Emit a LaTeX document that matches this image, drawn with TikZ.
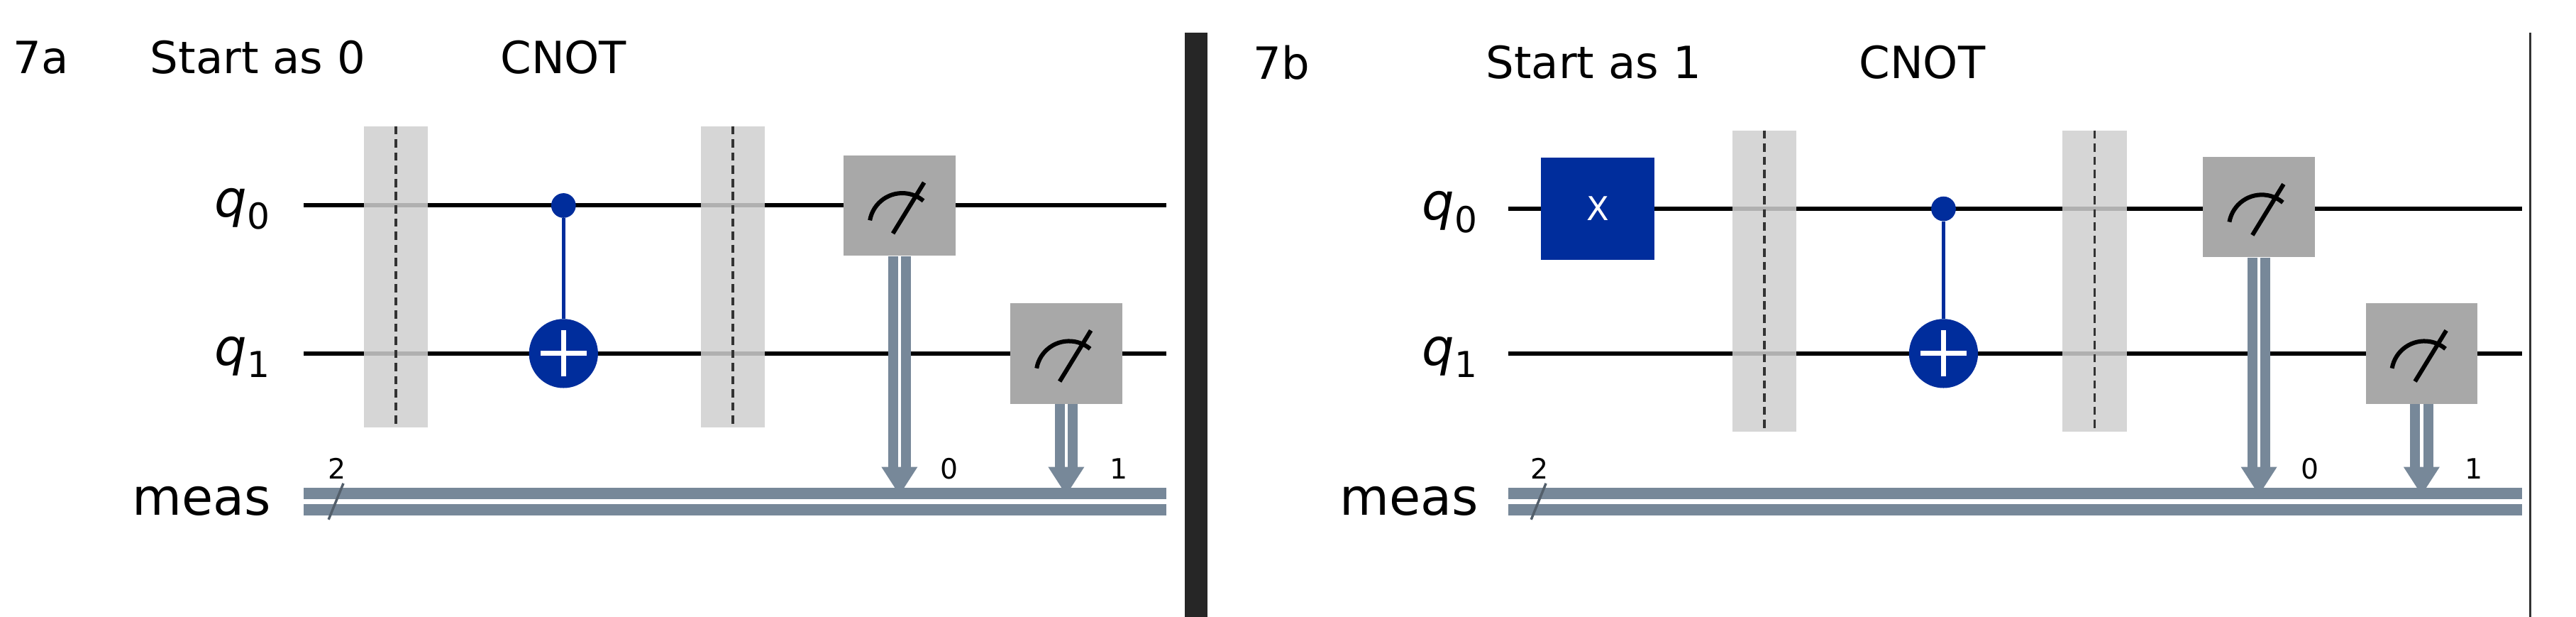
\documentclass[tikz,border=0pt]{standalone}
\usepackage{fontspec}
\setmainfont{DejaVu Sans}
\usepackage{xcolor}
\usetikzlibrary{positioning}
\definecolor{gateblue}{HTML}{002D9C}
\definecolor{measgray}{HTML}{A8A8A8}
\definecolor{barfill}{HTML}{CFCFCF}
\definecolor{cwire}{HTML}{778899}

\begin{document}
\begin{tikzpicture}[x=1pt, y=-1pt]
            \tikzstyle{title} = [font=\fontsize{27}{30}\selectfont, inner sep=0pt]
            \tikzstyle{wlabel} = [font=\fontsize{31}{34}\selectfont, anchor=east, inner sep=0pt]
            \tikzstyle{small} = [font=\fontsize{17}{20}\selectfont, inner sep=0pt]
            \tikzstyle{qwire} = [line width=2.6pt, black]
            \tikzstyle{cdouble} = [draw=cwire, line width=7pt, double=white, double distance=3pt]
            \tikzstyle{barrier} = [fill=barfill, opacity=0.85, minimum width=39pt, minimum height=183pt, inner sep=0pt]
            \tikzstyle{meter} = [fill=measgray, minimum width=68pt, minimum height=61pt, inner sep=0pt]
            \tikzstyle{xgate} = [fill=gateblue, text=white, minimum width=69pt, minimum height=62pt, inner sep=0pt, font=\fontsize{20}{22}\selectfont]
            \tikzstyle{ctrl} = [circle, fill=gateblue, minimum size=15pt, inner sep=0pt]
            \tikzstyle{target} = [circle, fill=gateblue, minimum size=42pt, inner sep=0pt]
            \tikzstyle{bline} = [dashed, dash pattern=on 5pt off 3pt, line width=1.6pt, black!80]
            \useasboundingbox (0,0) rectangle (1568,375.2);

            % dividers
            \fill [black!85] (721,20) rectangle (735,375.2);
            \draw [line width=1.2pt, black!80] (1540,20) -- (1540,375.2);

            % panel 7a
            \node [title] (A) at (25,35) {7a};
            \node [title] (Astart) at (157,35) {Start as 0};
            \node [title] (Acnot) at (343,35) {CNOT};
            \node [wlabel] (Aq0) at (165,127) {\itshape q\textsubscript{\upshape 0}};
            \node [wlabel] (Aq1) at (165,217) {\itshape q\textsubscript{\upshape 1}};
            \node [wlabel] (Ameas) at (165,305) {meas};
            \coordinate (Aw0s) at (185,125); \coordinate (Aw0e) at (710,125);
            \coordinate (Aw1s) at (185,215); \coordinate (Aw1e) at (710,215);
            \coordinate (Acs) at (185,305); \coordinate (Ace) at (710,305);
            \draw [qwire] (Aw0s) -- (Aw0e);
            \draw [qwire] (Aw1s) -- (Aw1e);
            \draw [cdouble] (Acs) -- (Ace);
            \draw [cwire!70!black, line width=1.5pt] (200,316) -- (209,294);
            \node [small] (An2) at (205,285) {2};
            \node [barrier] (Ab1) at (241,168.5) {};
            \draw [bline] (Ab1.north) -- (Ab1.south);
            \node [barrier] (Ab2) at (446,168.5) {};
            \draw [bline] (Ab2.north) -- (Ab2.south);
            \node [ctrl] (Ac) at (343,125) {};
            \node [target] (At) at (343,215) {};
            \draw [gateblue, line width=2.2pt] (Ac) -- (At);
            \draw [white, line width=3pt] ([yshift=-14pt]At.center) -- ([yshift=14pt]At.center)
                  ([xshift=-14pt]At.center) -- ([xshift=14pt]At.center);
            \node [meter] (Am0) at (547.5,125) {};
            \node [meter] (Am1) at (649,215) {};
            \node [small] (An0) at (578,285) {0};
            \node [small] (An1) at (681,285) {1};

            % panel 7b
            \node [title] (B) at (780,38) {7b};
            \node [title] (Bstart) at (970,38) {Start as 1};
            \node [title] (Bcnot) at (1170,38) {CNOT};
            \node [wlabel] (Bq0) at (900,129) {\itshape q\textsubscript{\upshape 0}};
            \node [wlabel] (Bq1) at (900,217) {\itshape q\textsubscript{\upshape 1}};
            \node [wlabel] (Bmeas) at (900,305) {meas};
            \coordinate (Bw0s) at (918,127); \coordinate (Bw0e) at (1535,127);
            \coordinate (Bw1s) at (918,215); \coordinate (Bw1e) at (1535,215);
            \coordinate (Bcs) at (918,305); \coordinate (Bce) at (1535,305);
            \draw [qwire] (Bw0s) -- (Bw0e);
            \draw [qwire] (Bw1s) -- (Bw1e);
            \draw [cdouble] (Bcs) -- (Bce);
            \draw [cwire!70!black, line width=1.5pt] (932,316) -- (941,294);
            \node [small] (Bn2) at (937,285) {2};
            \node [xgate] (Bx) at (972.5,127) {X};
            \node [barrier] (Bb1) at (1074,171) {};
            \draw [bline] (Bb1.north) -- (Bb1.south);
            \node [barrier] (Bb2) at (1275,171) {};
            \draw [bline] (Bb2.north) -- (Bb2.south);
            \node [ctrl] (Bc) at (1183,127) {};
            \node [target] (Bt) at (1183,215) {};
            \draw [gateblue, line width=2.2pt] (Bc) -- (Bt);
            \draw [white, line width=3pt] ([yshift=-14pt]Bt.center) -- ([yshift=14pt]Bt.center)
                  ([xshift=-14pt]Bt.center) -- ([xshift=14pt]Bt.center);
            \node [meter] (Bm0) at (1375,126) {};
            \node [meter] (Bm1) at (1474,215) {};
            \node [small] (Bn0) at (1406,285) {0};
            \node [small] (Bn1) at (1506,285) {1};

            % meter dials and classical arrows
            \foreach \m/\c in {Am0/Ace, Am1/Ace, Bm0/Bce, Bm1/Bce} {
                \draw [black, line width=2.6pt] ([shift={(-18pt,-9pt)}]\m.center) arc [start angle=170, end angle=50, radius=20pt];
                \draw [black, line width=2.6pt] ([shift={(-4pt,-17pt)}]\m.center) -- ([shift={(15pt,14pt)}]\m.center);
                \draw [draw=cwire, line width=6pt, double=white, double distance=2pt] (\m.south) -- ([yshift=18pt]\m.south |- \c);
                \fill [cwire] ([shift={(-11pt,21pt)}]\m.south |- \c) -- ([shift={(11pt,21pt)}]\m.south |- \c) -- ([yshift=4pt]\m.south |- \c) -- cycle;
            }
\end{tikzpicture}
\end{document}
